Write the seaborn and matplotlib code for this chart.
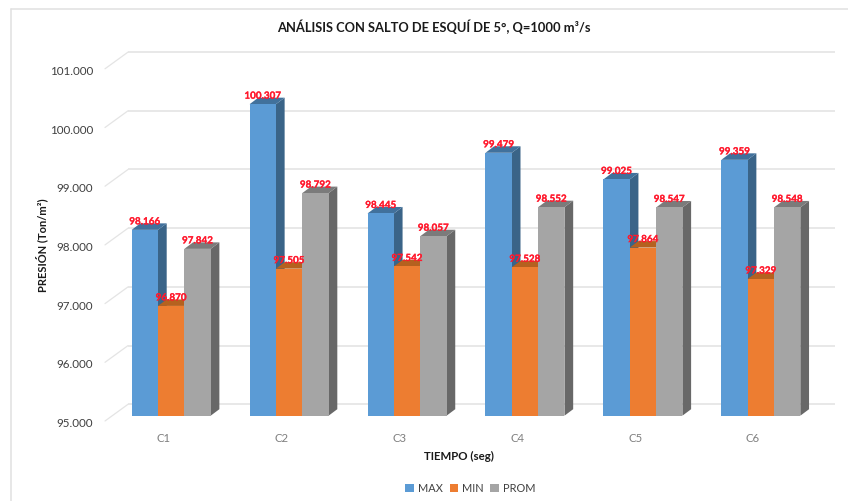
import numpy as np
import pandas as pd
import matplotlib
matplotlib.use('Agg')
import matplotlib.pyplot as plt
import seaborn as sns
import matplotlib.patheffects as pe
from matplotlib.lines import Line2D
from matplotlib.patches import Polygon, Patch
from matplotlib.transforms import ScaledTranslation

casos = ['C1', 'C2', 'C3', 'C4', 'C5', 'C6']
p_max = [98.166, 100.307, 98.445, 99.479, 99.025, 99.359]
p_min = [96.870, 97.505, 97.542, 97.528, 97.864, 97.329]
p_prom = [97.842, 98.792, 98.057, 98.552, 98.547, 98.548]
series = ['MAX', 'MIN', 'PROM']
y_ticks = [95, 96, 97, 98, 99, 100, 101]

colores = ['#5B9BD5', '#ED7D31', '#A5A5A5']
lados = ['#3A6488', '#A85A22', '#686868']
tapas = ['#41719C', '#B5611F', '#7B7B7B']
GRID = '#E4E4E4'
TEXTO = '#404040'

sns.set_style('white')
plt.rcParams['font.family'] = ['Lato', 'DejaVu Sans']

W, H = 848, 502
fig = plt.figure(figsize=(W / 100, H / 100), dpi=100)
# plano frontal de las barras, en pixeles de la imagen
left, right, top, bottom = 112.2, 819.8, 64.5, 416.7
ax = fig.add_axes([left / W, 1 - bottom / H, (right - left) / W, (bottom - top) / H])

df = pd.DataFrame({'caso': casos, 'MAX': p_max, 'MIN': p_min, 'PROM': p_prom})
df = df.melt(id_vars='caso', value_vars=series, var_name='serie', value_name='presion')
sns.barplot(data=df, x='caso', y='presion', hue='serie', palette=colores, width=0.67, gap=0,
            saturation=1, legend=False, linewidth=0, ax=ax)
ax.set_xlim(-0.5, 5.5)
ax.set_ylim(95, 101)
ax.patch.set_alpha(0)
sns.despine(ax=ax, left=True, bottom=True)

# conversion de pixeles a unidades de datos
px_x = 6 / (right - left)
px_y = 6 / (bottom - top)
dx = 8.7 * px_x
dy = 6.5 * px_y

# paredes: rejilla de fondo y diagonal del lado izquierdo
x_back0 = -0.5 + (128 - left) * px_x
x_back1 = -0.5 + (835 - left) * px_x
x_front = -0.5 + (105 - left) * px_x
for v in y_ticks:
    ax.plot([x_front, x_back0], [v - 5.3 * px_y, v + 11.4 * px_y], color=GRID, lw=0.9,
            clip_on=False, zorder=1)
    ax.plot([x_back0, x_back1], [v + 11.4 * px_y] * 2, color=GRID, lw=1.2,
            clip_on=False, zorder=1, solid_capstyle='butt')

# caras laterales y superiores de cada barra
for i, cont in enumerate(ax.containers):
    for bar in cont:
        x0 = bar.get_x()
        x1 = x0 + bar.get_width()
        v = bar.get_height()
        bar.set_zorder(2 * i + 4)
        ax.add_patch(Polygon([(x1, 95), (x1 + dx, 95 + dy), (x1 + dx, v + dy), (x1, v)],
                             closed=True, fc=lados[i], ec='none', clip_on=False, zorder=2 * i + 3))
        ax.add_patch(Polygon([(x0, v), (x0 + dx, v + dy), (x1 + dx, v + dy), (x1, v)],
                             closed=True, fc=tapas[i], ec='none', clip_on=False, zorder=2 * i + 3))
        ax.annotate('{:.3f}'.format(v), xy=((x0 + x1) / 2, v), xytext=(0, 8 * 0.72),
                    textcoords='offset points', ha='center', va='center', color='#FF1A2E',
                    fontsize=7.1, fontweight='bold', zorder=20,
                    path_effects=[pe.withStroke(linewidth=0.15, foreground='#FF1A2E')])

ax.set_yticks(y_ticks)
ax.set_yticklabels(['{:.3f}'.format(v) for v in y_ticks])
ax.tick_params(axis='y', length=0, pad=13.6, labelsize=8.4, labelcolor=TEXTO)
ax.tick_params(axis='x', length=0, pad=11.5, labelsize=8.2, labelcolor='#7F7F7F')
for lab in ax.get_yticklabels():
    lab.set_transform(lab.get_transform() + ScaledTranslation(0, -6 / 100, fig.dpi_scale_trans))
for lab in ax.get_xticklabels():
    lab.set_transform(lab.get_transform() + ScaledTranslation(-7.8 / 100, 0, fig.dpi_scale_trans))
ax.set_xlabel('')
ax.set_ylabel('')

fig.text(434 / W, 1 - 27 / H, 'ANÁLISIS CON SALTO DE ESQUÍ DE 5°, Q=1000 m³/s', ha='center', va='center',
         fontsize=9.3, fontweight='bold', color='#1A1A1A')
fig.text(458.5 / W, 1 - 456.5 / H, 'TIEMPO (seg)', ha='center', va='center',
         fontsize=8.3, fontweight='bold', color='#1A1A1A')
fig.text(42 / W, 1 - 245.5 / H, 'PRESIÓN (Ton/m²)', ha='center', va='center', rotation=90,
         fontsize=8, fontweight='bold', color='#1A1A1A')

handles = [Patch(fc=c, ec='none') for c in colores]
fig.legend(handles, series, loc='center', bbox_to_anchor=(470.5 / W, 1 - 489 / H), ncol=3, frameon=False,
           fontsize=7.9, labelcolor=TEXTO, handlelength=0.75, handleheight=0.75, handletextpad=0.4,
           columnspacing=0.6, borderpad=0)

# marco del grafico
fig.add_artist(Line2D([11.3 / W, 1], [1 - 10.3 / H] * 2, color='#E0E0E0', lw=1.1))
fig.add_artist(Line2D([11.3 / W] * 2, [1 - 10.3 / H, 0], color='#E0E0E0', lw=1.1))

fig.savefig('out.png', dpi=100)
plt.close()
